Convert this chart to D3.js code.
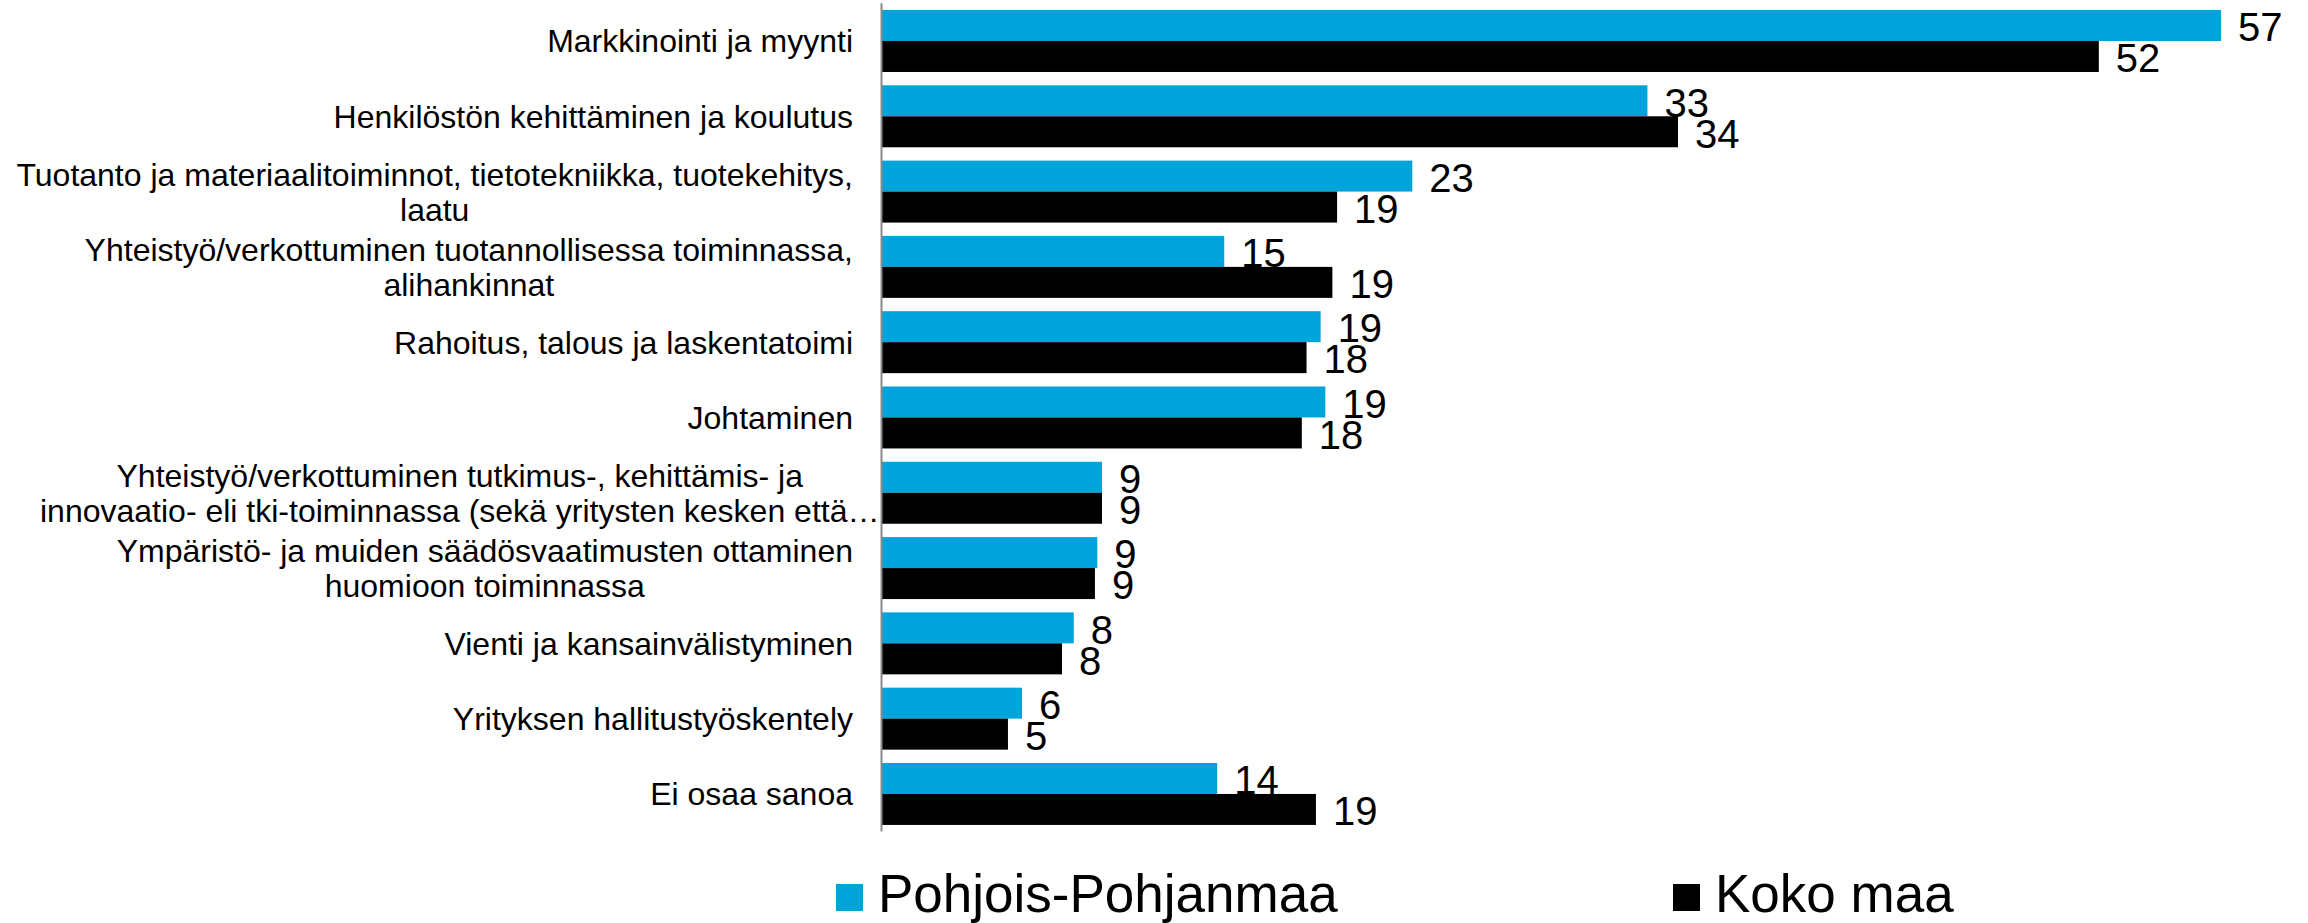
<!DOCTYPE html>
<html>
<head>
<meta charset="utf-8">
<script src="https://cdn.jsdelivr.net/npm/d3@7"></script>
<style>
  html, body { margin: 0; padding: 0; background: #fff; }
  svg { display: block; font-family: "Liberation Sans", Arial, sans-serif; }
</style>
</head>
<body>
<svg id="chart" width="2308" height="923"></svg>
<script>
const categories = [
  "Markkinointi ja myynti",
  "Henkilöstön kehittäminen ja koulutus",
  "Tuotanto ja materiaalitoiminnot, tietotekniikka, tuotekehitys,\nlaatu",
  "Yhteistyö/verkottuminen tuotannollisessa toiminnassa,\nalihankinnat",
  "Rahoitus, talous ja laskentatoimi",
  "Johtaminen",
  "Yhteistyö/verkottuminen tutkimus-, kehittämis- ja\ninnovaatio- eli tki-toiminnassa (sekä yritysten kesken että…",
  "Ympäristö- ja muiden säädösvaatimusten ottaminen\nhuomioon toiminnassa",
  "Vienti ja kansainvälistyminen",
  "Yrityksen hallitustyöskentely",
  "Ei osaa sanoa"
];
const seriesNames = ["Pohjois-Pohjanmaa", "Koko maa"];
const pohjoisPohjanmaa = [57.0, 32.6, 22.6, 14.6, 18.7, 18.9, 9.4, 9.2, 8.2, 6.0, 14.3];
const kokoMaa = [51.8, 33.9, 19.4, 19.2, 18.1, 17.9, 9.4, 9.1, 7.7, 5.4, 18.5];
const xDomainMax = 60;

const colors = ["#00A3DA", "#000000"];
const seriesValues = [pohjoisPohjanmaa, kokoMaa];

const svg = d3.select("#chart");

const x = d3.scaleLinear().domain([0, xDomainMax]).range([881, 881 + 60 * 23.51]);
const y = d3.scaleBand().domain(categories).range([3.35, 831.6])
  .paddingInner(0.177).paddingOuter(0.0885);
const ys = d3.scaleBand().domain(seriesNames).range([0, y.bandwidth()]);

const rows = categories.map((c, i) => ({ c, vals: seriesValues.map((s, j) => ({ name: seriesNames[j], v: s[i], color: colors[j] })) }));

const g = svg.append("g");
const groups = g.selectAll("g.cat").data(rows).join("g")
  .attr("class", "cat")
  .attr("transform", d => `translate(0,${y(d.c)})`);

groups.selectAll("rect").data(d => d.vals).join("rect")
  .attr("x", x(0))
  .attr("y", d => ys(d.name))
  .attr("width", d => x(d.v) - x(0))
  .attr("height", ys.bandwidth())
  .attr("fill", d => d.color);

groups.selectAll("text.val").data(d => d.vals).join("text")
  .attr("class", "val")
  .attr("x", d => x(d.v) + 17)
  .attr("y", d => ys(d.name) + ys.bandwidth() / 2 + 15.8)
  .attr("font-size", 40)
  .attr("fill", "#000")
  .text(d => Math.round(d.v));

// axis line
const axis = d3.axisLeft(y).tickSize(0).tickFormat("");
const axG = svg.append("g").attr("transform", `translate(${x(0) + 0.5},0)`).call(axis);
axG.select(".domain").attr("stroke", "#898989").attr("stroke-width", 2)
  .attr("d", `M0,${y.range()[0]}V${y.range()[1]}`);

// category labels
const labelRight = 853, truncatedLeft = 40, lineH = 35, catFont = 32;
rows.forEach(r => {
  const lines = r.c.split("\n");
  const cy = y(r.c) + y.bandwidth() / 2;
  const tg = svg.append("g");
  const texts = lines.map((ln, k) => tg.append("text")
    .attr("font-size", catFont)
    .attr("fill", "#000")
    .attr("text-anchor", "middle")
    .attr("y", cy + (k - (lines.length - 1) / 2) * lineH + 0.358 * catFont)
    .text(ln));
  const w = d3.max(texts, t => t.node().getComputedTextLength());
  // truncated labels (ending with an ellipsis) overflow toward the axis
  const left = r.c.includes("…") ? truncatedLeft : labelRight - w;
  const cx = left + w / 2;
  texts.forEach(t => t.attr("x", cx));
});

// legend
const legendX = [836, 1673];
const lg = svg.append("g").selectAll("g").data(seriesNames).join("g")
  .attr("transform", (d, i) => `translate(${legendX[i]},0)`);
lg.append("rect").attr("x", 0).attr("y", 884).attr("width", 27).attr("height", 27)
  .attr("fill", (d, i) => colors[i]);
lg.append("text").attr("x", 42).attr("y", 912).attr("font-size", 53).attr("fill", "#000")
  .text(d => d);
</script>
</body>
</html>
